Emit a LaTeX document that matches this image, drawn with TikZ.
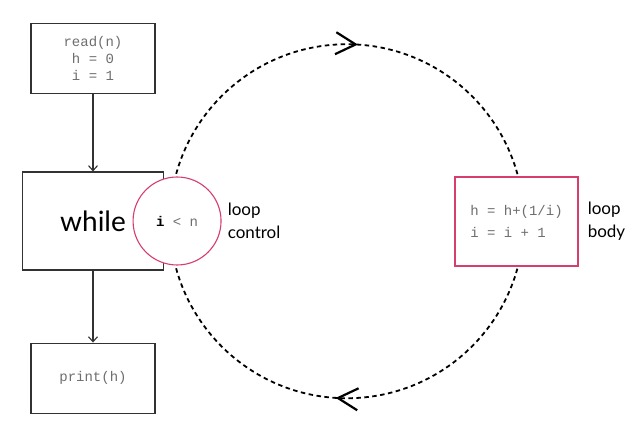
\documentclass[tikz,border=0pt]{standalone}
\usepackage{fontspec}
\setmainfont{Lato}
\setmonofont{Liberation Mono}
\usetikzlibrary{arrows.meta, positioning, backgrounds, decorations.markings, calc}
\definecolor{boxline}{RGB}{50,50,50}
\definecolor{codegray}{RGB}{110,110,110}
\definecolor{looppink}{RGB}{214,62,110}
\tikzset{
  block/.style={
    rectangle, draw=boxline, line width=1.1pt, fill=white,
    minimum width=124pt, minimum height=70pt,
    text=codegray, font=\ttfamily\fontsize{14}{17}\selectfont, align=center
  },
  cond/.style={
    circle, draw=looppink, line width=1.1pt, fill=white,
    minimum size=88pt, inner sep=0pt,
    text=codegray, font=\ttfamily\fontsize{14}{17}\selectfont
  },
  note/.style={
    align=left, font=\fontsize{17}{23}\selectfont, inner sep=0pt
  },
  loopline/.style={
    line width=1.8pt, dash pattern=on 4.5pt off 3.5pt,
    postaction={decorate},
    decoration={markings, mark=at position 0.52 with {\arrow[line width=2.2pt]{Straight Barb[length=20pt,width=22pt]}}}
  }
}

\begin{document}
\begin{tikzpicture}[x=1pt, y=1pt, node distance=72pt, >={Straight Barb[length=5pt,width=9pt]}]
  \useasboundingbox (0,0) rectangle (637,-435);
  \node[block, minimum width=141pt, minimum height=98pt, text=black, font=\fontsize{28}{30}\selectfont] (while) at (93,-221) {while};
  \node[block] (read) [above=77pt of while] {read(n)\\h = 0\\i = 1};
  \node[block] (print) [below=of while] {print(h)};
  \node[cond] (cond) at ([xshift=13pt]while.east) {\textcolor{black}{\bfseries i} < n};
  \node[note] (ctrlnote) [right=6pt of cond] {loop\\control};
  \node[block, draw=looppink, minimum height=89pt, minimum width=123pt, align=left,
        font=\ttfamily\fontsize{14}{22}\selectfont] (body) at (516.5,-221.5) {h = h+(1/i)\\i = i + 1};
  \node[note] (bodynote) [right=9pt of body] {loop\\body};

  \path[->, line width=1.1pt, draw=boxline]
  (read) edge (while)
  (while) edge (print);

  % the loop back from body to control
  \coordinate (mid) at ($(cond)!0.5!(body)$);
  \begin{scope}[on background layer]
    \draw[loopline] ([shift={(180:177pt)}]mid) arc[start angle=180, end angle=0, radius=177pt];
    \draw[loopline] ([shift={(0:177pt)}]mid) arc[start angle=0, end angle=-180, radius=177pt];
  \end{scope}
\end{tikzpicture}
\end{document}
